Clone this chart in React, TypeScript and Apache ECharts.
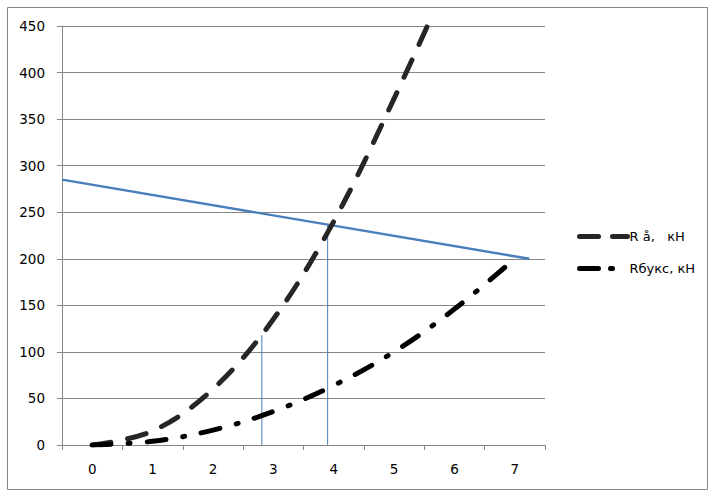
import React, { useEffect, useRef } from "react";
import * as echarts from "echarts";

const categories = ["0", "1", "2", "3", "4", "5", "6", "7"];
const raX = [0, 1, 2, 3, 4, 5, 6];
const raY = [0, 15, 60, 135, 240, 372, 515];
const rbX = [0, 1, 2, 3, 4, 5, 6, 7];
const rbY = [0, 4, 16, 36, 64, 100, 146, 200];
const limitLine = [[-0.5, 285], [7.24, 200]];
const vLine1 = [[2.81, 0], [2.81, 118]];
const vLine2 = [[3.9, 0], [3.9, 237]];
const seriesNames = ["R å,   кН", "Rбукс, кН"];

export default function App() {
  const ref = useRef<HTMLDivElement>(null);
  useEffect(() => {
    if (!ref.current) return;
    const chart = echarts.init(ref.current, null, { renderer: "svg" });
    const font = "DejaVu Sans";
    chart.setOption({
      animation: false,
      backgroundColor: "#ffffff",
      textStyle: { fontFamily: font },
      graphic: [
        {
          type: "rect",
          shape: { x: 7.5, y: 7.5, width: 700, height: 482 },
          style: { fill: "none", stroke: "#868686", lineWidth: 1 },
          silent: true,
        },
      ],
      grid: { left: 62, top: 26, right: 169, bottom: 51, containLabel: false },
      legend: {
        orient: "vertical",
        left: 572,
        top: 225,
        itemWidth: 48,
        itemHeight: 10,
        itemGap: 19,
        itemStyle: { opacity: 0 },
        textStyle: { fontFamily: font, fontSize: 13, color: "#000", padding: [0, 0, 0, -3] },
        data: [
          {
            name: seriesNames[0],
            lineStyle: { color: "#262626", width: 5, type: [19, 14], cap: "round" },
          },
          {
            name: seriesNames[1],
            lineStyle: { color: "#000000", width: 5, type: [19, 12, 2, 17], cap: "round" },
          },
        ],
      },
      xAxis: [
        {
          type: "category",
          data: categories,
          boundaryGap: true,
          axisLine: { lineStyle: { color: "#868686", width: 1 } },
          axisTick: { show: true, length: 5, lineStyle: { color: "#868686" } },
          axisLabel: { fontFamily: font, fontSize: 13.5, color: "#000", margin: 17 },
          splitLine: { show: false },
        },
        {
          type: "value",
          min: -0.5,
          max: 7.5,
          show: false,
          axisLine: { show: false },
          splitLine: { show: false },
        },
      ],
      yAxis: {
        type: "value",
        min: 0,
        max: 450,
        interval: 50,
        axisLine: { show: true, onZero: false, lineStyle: { color: "#868686" } },
        axisTick: { show: true, length: 5, lineStyle: { color: "#868686" } },
        axisLabel: { fontFamily: font, fontSize: 13.5, color: "#000", margin: 17 },
        splitLine: { show: true, lineStyle: { color: "#868686", width: 1 } },
      },
      series: [
        {
          name: "limit",
          type: "line",
          xAxisIndex: 1,
          data: limitLine,
          symbol: "none",
          lineStyle: { color: "#4a7ebb", width: 2.4 },
          z: 3,
        },
        {
          name: "v1",
          type: "line",
          xAxisIndex: 1,
          data: vLine1,
          symbol: "none",
          lineStyle: { color: "#4a7ebb", width: 1 },
          z: 3,
        },
        {
          name: "v2",
          type: "line",
          xAxisIndex: 1,
          data: vLine2,
          symbol: "none",
          lineStyle: { color: "#4a7ebb", width: 1 },
          z: 3,
        },
        {
          name: seriesNames[0],
          type: "line",
          xAxisIndex: 1,
          data: raX.map((x, i) => [x, raY[i]]),
          smooth: 0.35,
          symbol: "none",
          clip: true,
          itemStyle: { color: "#262626" },
          lineStyle: { color: "#262626", width: 5, type: [19, 17], cap: "round" },
          z: 4,
        },
        {
          name: seriesNames[1],
          type: "line",
          xAxisIndex: 1,
          data: rbX.map((x, i) => [x, rbY[i]]),
          smooth: 0.35,
          symbol: "none",
          clip: true,
          itemStyle: { color: "#000000" },
          lineStyle: { color: "#000000", width: 5, type: [19, 17, 2, 17], cap: "round" },
          z: 4,
        },
      ],
    });
    return () => chart.dispose();
  }, []);
  return (
    <div
      ref={ref}
      style={{ position: "fixed", left: 0, top: 0, width: 714, height: 496 }}
    />
  );
}
